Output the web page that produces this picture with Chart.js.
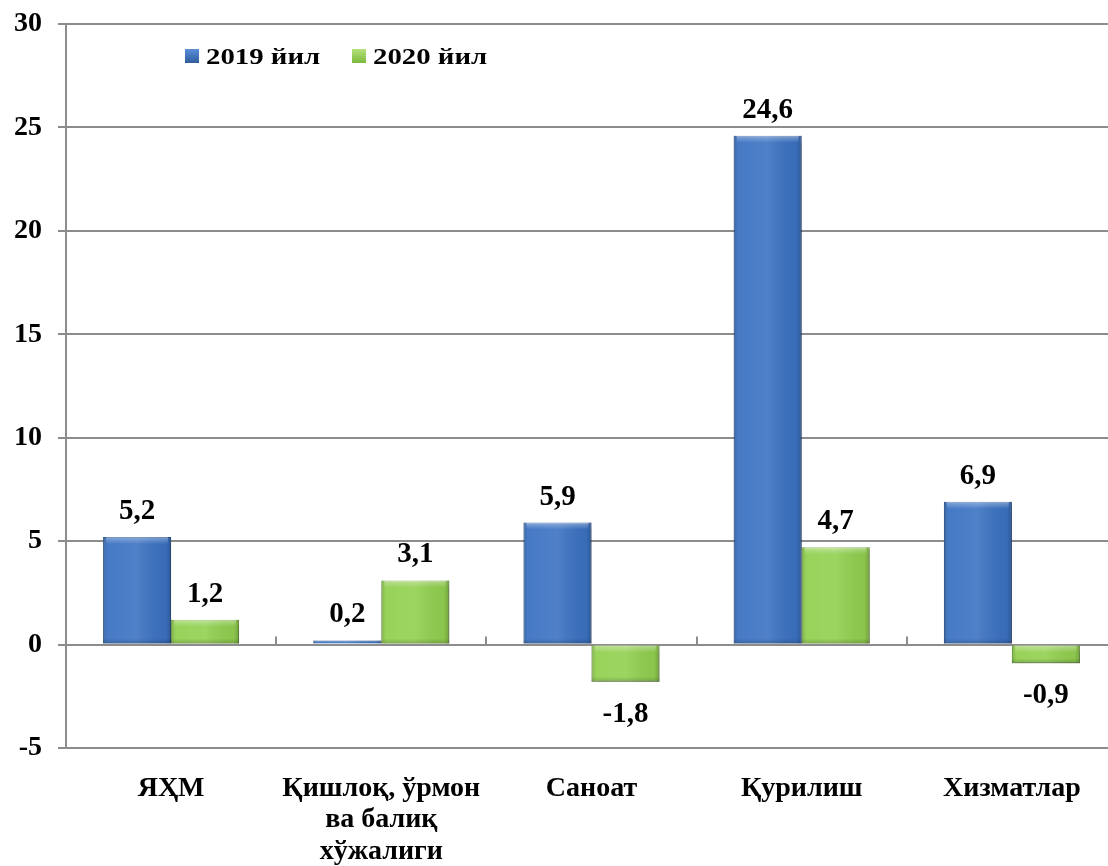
<!DOCTYPE html>
<html>
<head>
<meta charset="utf-8">
<script src="https://cdn.jsdelivr.net/npm/chart.js@4.4.1/dist/chart.umd.min.js"></script>
<style>
  html, body { margin: 0; padding: 0; background: #fff; overflow: hidden; }
  #wrap { position: relative; width: 1120px; height: 866px; }
  .leg { position: absolute; font: bold 24px 'Liberation Serif', serif; color: #000; white-space: nowrap; }
  .leg .sw { position: absolute; left: 0; top: 5px; width: 14px; height: 14px; }
  .leg .tx { position: absolute; left: 21px; top: 0; transform: scaleX(1.2); transform-origin: left center; line-height: 24px; }
</style>
</head>
<body>
<div id="wrap">
  <canvas id="chart" width="1120" height="866"></canvas>
  <div class="leg" style="left:185px; top:44px;"><div class="sw" style="background:linear-gradient(#5b8fd6,#2f5c9e)"></div><div class="tx">2019 йил</div></div>
  <div class="leg" style="left:352px; top:44px;"><div class="sw" style="background:linear-gradient(#b5e27a,#7cb83e)"></div><div class="tx">2020 йил</div></div>
</div>
<script>
// данные
const categories = ['ЯҲМ', ['Қишлоқ, ўрмон', 'ва балиқ', 'хўжалиги'], 'Саноат', 'Қурилиш', 'Хизматлар'];
const values2019 = [5.2, 0.2, 5.9, 24.6, 6.9];
const values2020 = [1.2, 3.1, -1.8, 4.7, -0.9];
const seriesNames = ['2019 йил', '2020 йил'];
const yMin = -5, yMax = 30, yStep = 5;

const FONT = "'Liberation Serif', 'Times New Roman', serif";
const GRID = '#8c8c8c';

// тень под столбцами
const shadowPlugin = {
  id: 'barShadow',
  beforeDatasetsDraw(chart) {
    const ctx = chart.ctx;
    ctx.save();
    ctx.shadowColor = 'rgba(0,0,0,0.28)';
    ctx.shadowBlur = 5;
    ctx.shadowOffsetX = 2;
    ctx.shadowOffsetY = 4;
  },
  afterDatasetsDraw(chart) {
    chart.ctx.restore();
  }
};

// объём столбцов + подписи значений
const bevelPlugin = {
  id: 'bevel',
  afterDatasetsDraw(chart) {
    const ctx = chart.ctx;
    const yScale = chart.scales.y;
    const zero = yScale.getPixelForValue(0);

    // короткие засечки на нулевой линии между категориями
    const xs = chart.scales.x;
    const step = (xs.right - xs.left) / categories.length;
    ctx.save();
    ctx.strokeStyle = GRID;
    ctx.lineWidth = 2;
    for (let i = 1; i < categories.length; i++) {
      const px = Math.round(xs.left + step * i);
      ctx.beginPath();
      ctx.moveTo(px, zero - 8);
      ctx.lineTo(px, zero);
      ctx.stroke();
    }
    ctx.restore();

    chart.data.datasets.forEach((ds, di) => {
      const meta = chart.getDatasetMeta(di);
      meta.data.forEach((bar, i) => {
        const p = bar.getProps(['x', 'y', 'base', 'width'], true);
        const left = p.x - p.width / 2;
        const top = Math.min(p.y, p.base);
        const h = Math.abs(p.base - p.y);
        ctx.save();
        const g = ctx.createLinearGradient(left, 0, left + p.width, 0);
        g.addColorStop(0, 'rgba(0,0,0,0.18)');
        g.addColorStop(0.08, 'rgba(255,255,255,0.06)');
        g.addColorStop(0.5, 'rgba(255,255,255,0.10)');
        g.addColorStop(0.92, 'rgba(0,0,0,0.05)');
        g.addColorStop(1, 'rgba(0,0,0,0.22)');
        ctx.fillStyle = g;
        ctx.fillRect(left, top, p.width, h);
        if (h > 8) {
          const tg = ctx.createLinearGradient(0, top, 0, top + 7);
          tg.addColorStop(0, 'rgba(255,255,255,0.35)');
          tg.addColorStop(1, 'rgba(255,255,255,0)');
          ctx.fillStyle = tg;
          ctx.fillRect(left + 3, top, p.width - 6, 7);
          const bg = ctx.createLinearGradient(0, top + h - 5, 0, top + h);
          bg.addColorStop(0, 'rgba(0,0,0,0)');
          bg.addColorStop(1, 'rgba(0,0,0,0.18)');
          ctx.fillStyle = bg;
          ctx.fillRect(left, top + h - 5, p.width, 5);
        }
        ctx.restore();

        // подпись
        const v = ds.data[i];
        ctx.save();
        ctx.fillStyle = '#000';
        ctx.font = 'bold 29px ' + FONT;
        ctx.textAlign = 'center';
        ctx.textBaseline = 'alphabetic';
        const txt = String(v).replace('.', ',');
        if (v >= 0) {
          ctx.fillText(txt, p.x, Math.min(p.y, zero) - 18);
        } else {
          ctx.fillText(txt, p.x, p.y + 40);
        }
        ctx.restore();
      });
    });
  }
};

new Chart(document.getElementById('chart'), {
  type: 'bar',
  data: {
    labels: categories,
    datasets: [
      {
        label: seriesNames[0],
        data: values2019,
        backgroundColor: '#3b72c2',
        borderColor: '#2d5a9c',
        borderWidth: 1
      },
      {
        label: seriesNames[1],
        data: values2020,
        backgroundColor: '#92d050',
        borderColor: '#79b23c',
        borderWidth: 1
      }
    ]
  },
  plugins: [shadowPlugin, bevelPlugin],
  options: {
    responsive: false,
    animation: false,
    layout: { padding: { top: 24, right: 3, left: 0, bottom: 0 } },
    datasets: {
      bar: { categoryPercentage: 0.647, barPercentage: 1.0 }
    },
    scales: {
      x: {
        grid: { display: false },
        border: { display: false },
        ticks: {
          color: '#000',
          font: { family: FONT, size: 28, weight: 'bold', lineHeight: 1.12 },
          padding: 17,
          maxRotation: 0,
          autoSkip: false
        },
        afterFit(scale) { scale.height = 118; }
      },
      y: {
        min: yMin,
        max: yMax,
        grid: { color: GRID, lineWidth: 2, tickLength: 8 },
        border: { display: true, color: GRID, width: 2 },
        ticks: {
          stepSize: yStep,
          color: '#000',
          padding: 16,
          font: { family: FONT, size: 28, weight: 'bold' }
        },
        afterFit(scale) {
          scale.width = 66;
          scale.paddingTop = 0;
          scale.paddingBottom = 0;
        }
      }
    },
    plugins: {
      legend: { display: false },
      tooltip: { enabled: false }
    }
  }
});
</script>
</body>
</html>
